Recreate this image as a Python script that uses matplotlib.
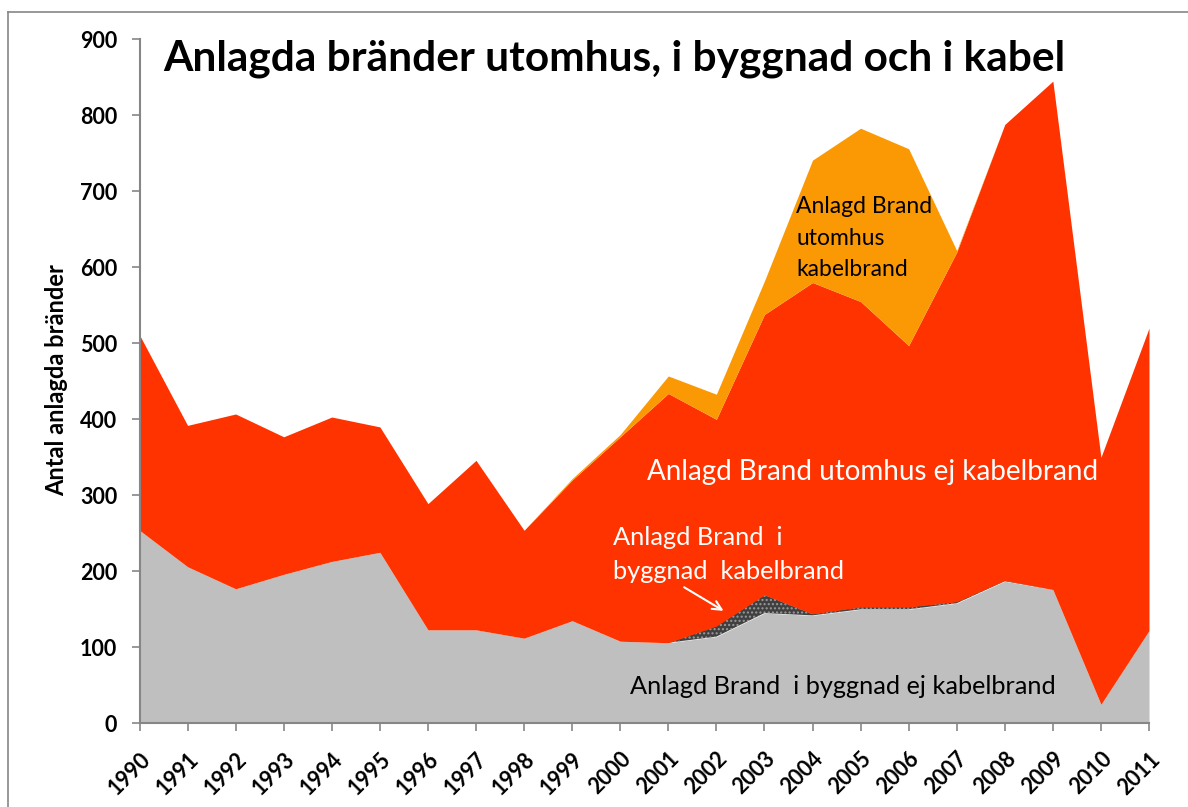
import matplotlib
matplotlib.use("Agg")
import matplotlib.pyplot as plt
from matplotlib.lines import Line2D
import numpy as np

years = list(range(1990, 2012))
# Anlagd Brand i byggnad ej kabelbrand
byggnad_ej_kabel = [254, 206, 177, 196, 213, 225, 123, 123, 112, 135, 108,
                    106, 114, 145, 142, 150, 150, 158, 187, 176, 25, 122]
# Anlagd Brand i byggnad kabelbrand
byggnad_kabel = [0, 0, 0, 0, 0, 0, 0, 0, 0, 0, 0,
                 0, 14, 24, 2, 3, 3, 2, 1, 0, 0, 0]
# Anlagd Brand utomhus ej kabelbrand
utomhus_ej_kabel = [257, 186, 230, 181, 190, 165, 166, 223, 142, 185, 269,
                    328, 272, 369, 436, 402, 344, 460, 600, 669, 325, 398]
# Anlagd Brand utomhus kabelbrand
utomhus_kabel = [0, 0, 0, 0, 0, 0, 0, 0, 0, 2, 3,
                 23, 33, 44, 161, 228, 259, 2, 0, 0, 0, 0]

title = "Anlagda bränder utomhus, i byggnad och i kabel"
ylabel = "Antal anlagda bränder"
yticks = [0, 100, 200, 300, 400, 500, 600, 700, 800, 900]

FONT = ["Lato", "DejaVu Sans"]
plt.rcParams['font.family'] = FONT

W, H = 1188, 807
fig = plt.figure(figsize=(W / 100, H / 100), dpi=100)
ax = fig.add_axes([139.5 / W, (H - 723.3) / H, (1149 - 139.5) / W, (723.3 - 39.3) / H])

x = np.array(years)
b1 = np.array(byggnad_ej_kabel, dtype=float)
b2 = b1 + np.array(byggnad_kabel)
b3 = b2 + np.array(utomhus_ej_kabel)
b4 = b3 + np.array(utomhus_kabel)

ax.fill_between(x, 0, b1, color="#bfbfbf", lw=0)
ax.fill_between(x, b1, b2, facecolor="#404040", edgecolor="#9a9a9a", hatch="....", lw=0)
ax.fill_between(x, b2, b3, color="#ff3300", lw=0)
ax.fill_between(x, b3, b4, color="#fb9904", lw=0)

ax.set_xlim(1990, 2011)
ax.set_ylim(0, 900)
ax.set_yticks(yticks)
ax.set_xticks(years)
ax.set_xticklabels([str(y) for y in years], rotation=45, ha="right",
                   rotation_mode="anchor", fontsize=15.5, fontweight="bold")
ax.set_yticklabels([str(v) for v in yticks], fontsize=15.5, fontweight="bold")
for s in ["top", "right"]:
    ax.spines[s].set_visible(False)
for s in ["left", "bottom"]:
    ax.spines[s].set_color("#868686")
    ax.spines[s].set_linewidth(1.5)
    ax.spines[s].set_zorder(5)
ax.tick_params(axis="both", direction="out", length=6, width=1.2, color="#868686")
ax.tick_params(axis="y", pad=10)
ax.tick_params(axis="x", pad=12)

ax.set_ylabel(ylabel, fontsize=17, fontweight="bold")
ax.yaxis.set_label_coords((68 - 139.5) / (1149 - 139.5), (723.3 - 380) / (723.3 - 39.3))

fig.text(163 / W, 1 - 59 / H, title, fontsize=30.5, fontweight="bold", va="center", ha="left")

# Annotations
ax.text(2003.66, 638, "Anlagd Brand\nutomhus\nkabelbrand", fontsize=16.5, color="black",
        va="center", ha="left", linespacing=1.62)
ax.text(2000.55, 330, "Anlagd Brand utomhus ej kabelbrand", fontsize=20, color="white",
        va="center", ha="left")
ax.text(1999.85, 222, "Anlagd Brand  i\nbyggnad  kabelbrand", fontsize=18.3, color="white",
        va="center", ha="left", linespacing=1.6)
ax.annotate("", xy=(2002.15, 148), xytext=(2001.33, 179),
            arrowprops=dict(arrowstyle="->", color="white", lw=1.5, mutation_scale=16,
                            shrinkA=0, shrinkB=0))
ax.text(2000.2, 48, "Anlagd Brand  i byggnad ej kabelbrand", fontsize=18.2, color="black",
        va="center", ha="left")

# outer chart border (left and top edges visible)
fig.add_artist(Line2D([8 / W, 8 / W], [1 - 12 / H, 0], transform=fig.transFigure, color="#868686", lw=1.2))
fig.add_artist(Line2D([8 / W, 1], [1 - 12 / H, 1 - 12 / H], transform=fig.transFigure, color="#868686", lw=1.2))

fig.savefig("out.png", dpi=100)
